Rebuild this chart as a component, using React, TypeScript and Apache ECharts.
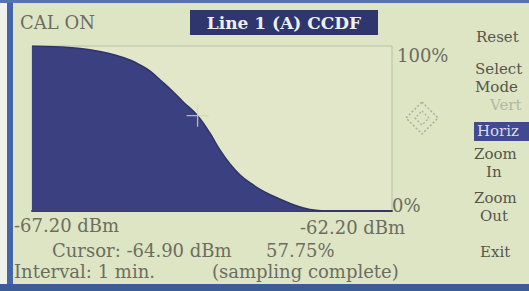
import React, { useEffect, useRef } from "react";
import * as echarts from "echarts";

// CCDF curve: power (dBm) vs. probability (%)
const powerDbm = [-67.2, -66.81, -66.53, -66.26, -66.05, -65.84, -65.7, -65.56, -65.42, -65.28, -65.1, -64.9, -64.73, -64.59, -64.45, -64.31, -64.17, -63.99, -63.76, -63.52, -63.34, -63.13, -62.2];
const ccdfPct = [100, 99.4, 98.5, 96.7, 94.5, 91.5, 88.5, 84.8, 79.4, 73.9, 66.1, 57.75, 47.3, 37.0, 28.5, 21.8, 17.0, 12.1, 7.3, 3.0, 0.9, 0, 0];

const cursor = [-64.9, 57.75];
const xRange = [-67.2, -62.2];
const xTickLabels = ["-67.20 dBm", "-62.20 dBm"];
const yTickLabels = ["100%", "0%"];
const menuItems = ["Reset", "Select", "Mode", "Vert", "Horiz", "Zoom", "In", "Zoom", "Out", "Exit"];

const FONT = "DejaVu Serif";
const GREY = "#6c6d60";
const NAVY = "#3b4081";

export default function App() {
  const ref = useRef<HTMLDivElement>(null);
  useEffect(() => {
    if (!ref.current) return;
    const chart = echarts.init(ref.current, null, { renderer: "svg" });
    const txt = (x: number, y: number, text: string, extra: any = {}) => ({
      type: "text",
      x,
      y,
      style: {
        text,
        fill: GREY,
        font: `18px "${FONT}"`,
        textVerticalAlign: "middle",
        ...extra,
      },
      z: 10,
    });
    const menuY = [37, 69, 87, 105, 131, 154, 172, 198, 216, 252];
    const menuX = [476, 475, 475, 490, 477, 474, 486, 474, 480, 480];
    chart.setOption({
      animation: false,
      backgroundColor: "#dee5c4",
      grid: {
        left: 32,
        top: 46,
        width: 360,
        height: 165,
        show: true,
        borderColor: "#b9bea8",
        borderWidth: 1,
        backgroundColor: "#e1e7c8",
      },
      xAxis: {
        type: "value",
        min: xRange[0],
        max: xRange[1],
        axisLabel: { show: false },
        axisTick: { show: false },
        splitLine: { show: false },
        axisLine: { show: true, lineStyle: { color: "#3e4050", width: 2 } },
      },
      yAxis: {
        type: "value",
        min: 0,
        max: 100,
        axisLabel: { show: false },
        axisTick: { show: false },
        splitLine: { show: false },
        axisLine: { show: false },
      },
      series: [
        {
          type: "line",
          data: powerDbm.map((p, i) => [p, ccdfPct[i]]),
          smooth: 0.4,
          showSymbol: false,
          lineStyle: { color: "#2f3468", width: 1.5 },
          areaStyle: { color: NAVY, opacity: 1 },
          z: 2,
        },
        {
          type: "scatter",
          data: [cursor],
          symbol: "path://M9.4,0h1.2v9.4h9.4v1.2h-9.4v9.4h-1.2v-9.4h-9.4v-1.2h9.4z",
          symbolSize: 22,
          itemStyle: { color: "#d3d8c6" },
          z: 5,
        },
      ],
      graphic: [
        // blue frame of the screen
        { type: "rect", shape: { x: 0, y: 0, width: 7, height: 291 }, style: { fill: "#eef2ea" }, z: 1 },
        { type: "rect", shape: { x: 7, y: 0, width: 6, height: 291 }, style: { fill: "#4566a6" }, z: 1 },
        { type: "rect", shape: { x: 0, y: 0, width: 529, height: 3 }, style: { fill: "#5573b0" }, z: 1 },
        { type: "rect", shape: { x: 0, y: 284, width: 529, height: 7 }, style: { fill: "#3c5c98" }, z: 1 },
        txt(20, 22, "CAL ON"),
        // title box
        { type: "rect", shape: { x: 190, y: 10, width: 188, height: 25 }, style: { fill: "#2f356d" }, z: 9 },
        txt(284, 23, "Line 1 (A) CCDF", { fill: "#eef0f4", font: `bold 17px "${FONT}"`, textAlign: "center" }),
        // axis labels
        txt(397, 55, yTickLabels[0]),
        txt(392, 205, yTickLabels[1]),
        txt(14, 225, xTickLabels[0]),
        txt(300, 227, xTickLabels[1]),
        txt(52, 250, `Cursor: ${cursor[0].toFixed(2)} dBm`),
        txt(266, 250, `${cursor[1].toFixed(2)}%`),
        txt(14, 271, "Interval: 1 min."),
        txt(212, 271, "(sampling complete)"),
        // navigation diamond
        {
          type: "polygon",
          shape: { points: [[422, 102], [438, 118], [422, 134], [406, 118]] },
          style: { fill: "none", stroke: "#a9ad98", lineWidth: 1.5, lineDash: [2, 2] },
          z: 10,
        },
        {
          type: "polygon",
          shape: { points: [[422, 111], [429, 118], [422, 125], [415, 118]] },
          style: { fill: "none", stroke: "#a9ad98", lineWidth: 1.2, lineDash: [2, 2] },
          z: 10,
        },
        // menu
        { type: "rect", shape: { x: 474, y: 122, width: 55, height: 19 }, style: { fill: "#414a90" }, z: 9 },
        ...menuItems.map((m, i) =>
          txt(menuX[i], menuY[i], m, {
            font: `15px "${FONT}"`,
            fill: m === "Horiz" ? "#d9dcef" : m === "Vert" ? "#b3b7a4" : "#55564c",
          })
        ),
      ],
    });
    return () => chart.dispose();
  }, []);
  return (
    <div
      ref={ref}
      style={{ position: "fixed", left: 0, top: 0, width: 529, height: 291 }}
    />
  );
}
